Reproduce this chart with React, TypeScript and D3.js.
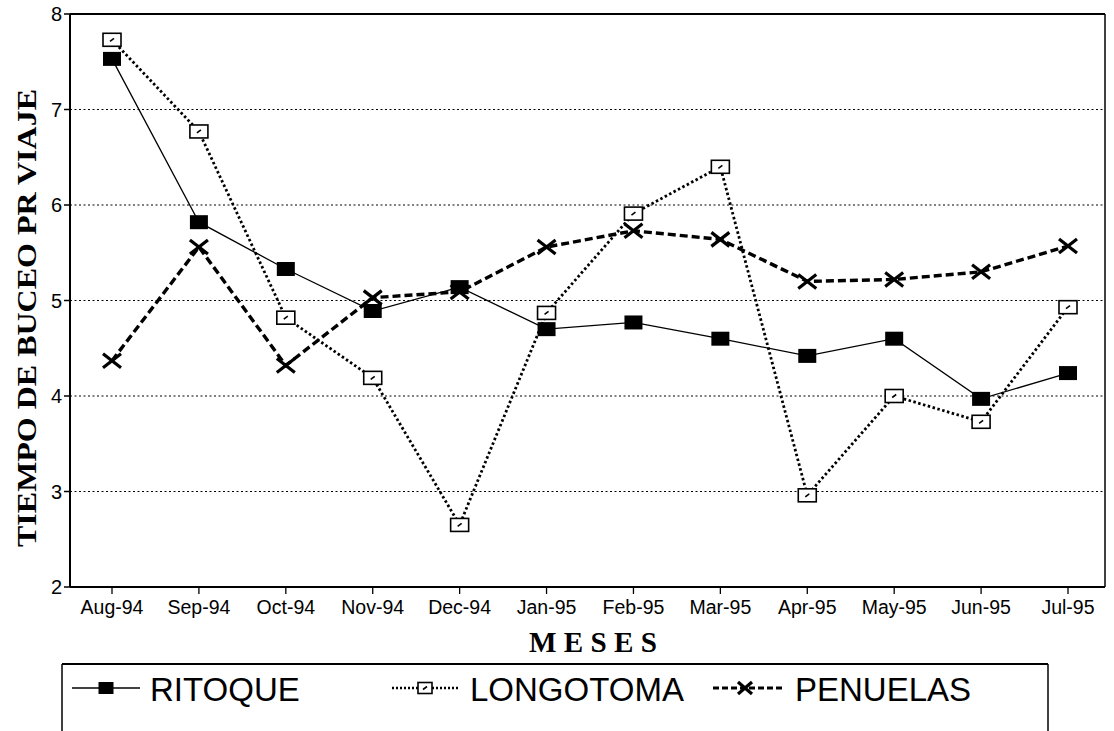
import React from "react";
import * as d3 from "d3";

const months = ["Aug-94", "Sep-94", "Oct-94", "Nov-94", "Dec-94", "Jan-95", "Feb-95", "Mar-95", "Apr-95", "May-95", "Jun-95", "Jul-95"];
const ritoque = [7.53, 5.82, 5.33, 4.89, 5.14, 4.70, 4.77, 4.60, 4.42, 4.60, 3.97, 4.24];
const longotoma = [7.73, 6.77, 4.82, 4.19, 2.65, 4.87, 5.91, 6.40, 2.96, 4.00, 3.73, 4.93];
const penuelas = [4.37, 5.56, 4.32, 5.03, 5.09, 5.56, 5.73, 5.64, 5.20, 5.22, 5.30, 5.57];
const yTicks = [2, 3, 4, 5, 6, 7, 8];
const gridTicks = [3, 4, 5, 6, 7];
const legendLabels = ["RITOQUE", "LONGOTOMA", "PENUELAS"];

const W = 1114;
const H = 731;
const plotLeft = 70;
const plotRight = 1105;
const plotTop = 14;
const plotBottom = 587;

export default function App() {
  const x = d3.scalePoint<string>().domain(months).range([112, 1068]);
  const y = d3.scaleLinear().domain([2, 8]).range([plotBottom, plotTop]);
  const line = d3
    .line<number>()
    .x((_, i) => x(months[i]) as number)
    .y((d) => y(d));

  const sans = "'Liberation Sans', Arial, sans-serif";
  const serif = "'Liberation Serif', 'Times New Roman', serif";

  const filledSquare = (cx: number, cy: number, key: string, w = 18, h = 14) => (
    <rect key={key} x={cx - w / 2} y={cy - h / 2} width={w} height={h} fill="#000" />
  );
  const openSquare = (cx: number, cy: number, key: string, w = 18, h = 13) => (
    <g key={key}>
      <rect x={cx - w / 2} y={cy - h / 2} width={w} height={h} fill="#fff" stroke="#000" strokeWidth={1.6} />
      <line x1={cx - 2} y1={cy + 1.5} x2={cx + 2} y2={cy - 1.5} stroke="#000" strokeWidth={1.6} />
    </g>
  );
  const cross = (cx: number, cy: number, key: string, w = 18, h = 14) => (
    <g key={key} stroke="#000" strokeWidth={3.2}>
      <line x1={cx - w / 2} y1={cy - h / 2} x2={cx + w / 2} y2={cy + h / 2} />
      <line x1={cx - w / 2} y1={cy + h / 2} x2={cx + w / 2} y2={cy - h / 2} />
    </g>
  );

  const legendY = 688;

  return (
    <svg
      width={W}
      height={H}
      viewBox={`0 0 ${W} ${H}`}
      style={{ position: "absolute", left: 0, top: 0, background: "#fff" }}
    >
      <rect x={0} y={0} width={W} height={H} fill="#fff" />

      {gridTicks.map((t) => (
        <line
          key={"g" + t}
          x1={plotLeft}
          x2={plotRight}
          y1={y(t)}
          y2={y(t)}
          stroke="#000"
          strokeWidth={1}
          strokeDasharray="2,2.5"
        />
      ))}

      <line x1={plotLeft} x2={plotRight} y1={plotTop} y2={plotTop} stroke="#000" strokeWidth={1.8} />
      <line x1={plotRight} x2={plotRight} y1={plotTop} y2={plotBottom} stroke="#000" strokeWidth={1.5} />
      <line x1={plotLeft} x2={plotLeft} y1={plotTop} y2={plotBottom} stroke="#000" strokeWidth={2} />
      <line x1={plotLeft} x2={plotRight} y1={plotBottom} y2={plotBottom} stroke="#000" strokeWidth={2} />

      {yTicks.map((t) => (
        <g key={"yt" + t}>
          <line x1={plotLeft - 6} x2={plotLeft} y1={y(t)} y2={y(t)} stroke="#000" strokeWidth={1.5} />
          <text x={plotLeft - 8} y={y(t) + 7} textAnchor="end" fontFamily={sans} fontSize={20} fill="#000">
            {t}
          </text>
        </g>
      ))}

      {months.map((m) => (
        <g key={"xt" + m}>
          <line x1={x(m)} x2={x(m)} y1={plotBottom} y2={plotBottom + 7} stroke="#000" strokeWidth={1.3} />
          <text x={x(m)} y={614} textAnchor="middle" fontFamily={sans} fontSize={19.5} fill="#000">
            {m}
          </text>
        </g>
      ))}

      <text
        x={593}
        y={652}
        textAnchor="middle"
        fontFamily={serif}
        fontWeight="bold"
        fontSize={29}
        fill="#000"
        textLength={128}
        lengthAdjust="spacingAndGlyphs"
      >
        M E S E S
      </text>
      <text
        transform={`translate(36,318) rotate(-90)`}
        textAnchor="middle"
        fontFamily={serif}
        fontWeight="bold"
        fontSize={28}
        fill="#000"
        textLength={458}
        lengthAdjust="spacingAndGlyphs"
      >
        TIEMPO DE BUCEO PR VIAJE
      </text>

      <path d={line(ritoque) || ""} fill="none" stroke="#000" strokeWidth={1.3} />
      <path d={line(longotoma) || ""} fill="none" stroke="#000" strokeWidth={2.8} strokeDasharray="2.5,2.5" />
      <path d={line(penuelas) || ""} fill="none" stroke="#000" strokeWidth={3.4} strokeDasharray="8,4" />

      {penuelas.map((v, i) => cross(x(months[i]) as number, y(v), "p" + i))}
      {longotoma.map((v, i) => openSquare(x(months[i]) as number, y(v), "l" + i))}
      {ritoque.map((v, i) => filledSquare(x(months[i]) as number, y(v), "r" + i))}

      <line x1={62} x2={1048} y1={664} y2={664} stroke="#000" strokeWidth={1.8} />
      <line x1={62} x2={62} y1={664} y2={H} stroke="#000" strokeWidth={1.5} />
      <line x1={1048} x2={1048} y1={664} y2={H} stroke="#000" strokeWidth={1.5} />

      <line x1={72} x2={140} y1={legendY} y2={legendY} stroke="#000" strokeWidth={1.5} />
      {filledSquare(106, legendY, "lr", 15, 12)}
      <text x={150} y={701} fontFamily={sans} fontSize={33} fill="#000">
        {legendLabels[0]}
      </text>

      <line x1={392} x2={458} y1={legendY} y2={legendY} stroke="#000" strokeWidth={2.6} strokeDasharray="2,2" />
      {openSquare(425, legendY, "ll", 14, 11)}
      <text x={470} y={701} fontFamily={sans} fontSize={33} fill="#000">
        {legendLabels[1]}
      </text>

      <line x1={713} x2={782} y1={legendY} y2={legendY} stroke="#000" strokeWidth={3} strokeDasharray="6,3" />
      {cross(745, legendY, "lp", 14, 12)}
      <text x={795} y={701} fontFamily={sans} fontSize={33} fill="#000">
        {legendLabels[2]}
      </text>
    </svg>
  );
}
